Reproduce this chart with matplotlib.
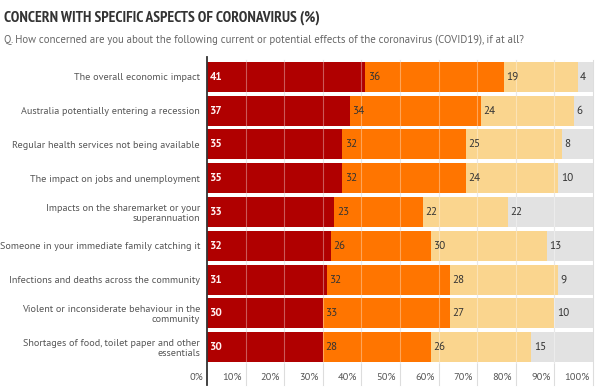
import numpy as np
import matplotlib.pyplot as plt
import matplotlib.transforms as mtransforms

plt.rcParams['font.family'] = ['PT Sans', 'DejaVu Sans']

categories = ["The overall economic impact",
              "Australia potentially entering a recession",
              "Regular health services not being available",
              "The impact on jobs and unemployment",
              "Impacts on the sharemarket or your\nsuperannuation",
              "Someone in your immediate family catching it",
              "Infections and deaths across the community",
              "Violent or inconsiderate behaviour in the\ncommunity",
              "Shortages of food, toilet paper and other\nessentials"]
very = [41, 37, 35, 35, 33, 32, 31, 30, 30]
somewhat = [36, 34, 32, 32, 23, 26, 32, 33, 28]
not_very = [19, 24, 25, 24, 22, 30, 28, 27, 26]
not_at_all = [4, 6, 8, 10, 22, 13, 9, 10, 15]
ticks = [0, 10, 20, 30, 40, 50, 60, 70, 80, 90, 100]
tick_labels = ["0%", "10%", "20%", "30%", "40%", "50%", "60%", "70%", "80%", "90%", "100%"]

cols = ["#b00000", "#ff7500", "#fad58e", "#e2e2e2"]

fig = plt.figure(figsize=(6.02, 3.91), dpi=100)
ax = fig.add_axes([207/602, 1-364/391, 386/602, 304/391])

y = np.arange(len(categories))
h = 0.89

# grey background = remainder up to 100
ax.barh(y, [100]*len(y), height=h, color=cols[3], zorder=2)
left = np.zeros(len(y))
for vals, c in zip([very, somewhat, not_very], cols[:3]):
    ax.barh(y, vals, left=left, height=h, color=c, zorder=2)
    left += np.array(vals)

# value labels
off = mtransforms.offset_copy(ax.transData, fig=fig, x=2.5, y=0, units='dots')
starts = np.zeros(len(y))
for k, vals in enumerate([very, somewhat, not_very, not_at_all]):
    for i, v in enumerate(vals):
        ax.text(starts[i], y[i], str(v), transform=off, ha='left', va='center',
                fontsize=8, color='#fff0f0' if k == 0 else '#333333',
                fontweight='bold' if k == 0 else 'normal', zorder=5)
    starts += np.array(vals)

ax.set_xlim(0, 100)
ax.set_ylim(8.5, -0.5)
ax.set_yticks(y)
ax.set_yticklabels(categories, fontsize=7.3, color='#555555', linespacing=1.15)
ax.tick_params(axis='y', length=0, pad=5)
ax.set_xticks([])

# gridlines
for t in ticks[1:]:
    ax.plot([t, t], [-0.07, 1], transform=ax.get_xaxis_transform(), color='#dddddd',
            lw=0.8, zorder=1, clip_on=False)
    ax.plot([t, t], [0, 1], transform=ax.get_xaxis_transform(), color='white',
            lw=0.8, alpha=0.35, zorder=3)

# tick labels right-aligned just left of each gridline
toff = mtransforms.offset_copy(ax.get_xaxis_transform(), fig=fig, x=-4, y=0, units='dots')
for t, lab in zip(ticks, tick_labels):
    ax.text(t, -0.043, lab, transform=toff, ha='right', va='center', fontsize=7.5,
            color='#555555')

for s in ['top', 'right', 'bottom', 'left']:
    ax.spines[s].set_visible(False)
ax.plot([0, 0], [-0.07, 1.01], transform=ax.get_xaxis_transform(), color='#333333',
        lw=1.3, zorder=6, clip_on=False)

fig.text(4/602, 1-18/391, "CONCERN WITH SPECIFIC ASPECTS OF CORONAVIRUS (%)",
         fontsize=11.2, fontweight='bold', color='#333333', va='center',
         family=['PT Sans Narrow', 'DejaVu Sans'])
fig.text(4/602, 1-40/391,
         "Q. How concerned are you about the following current or potential effects of the coronavirus (COVID19), if at all?",
         fontsize=7.75, color='#666666', va='center')

fig.savefig("out.png", dpi=100)
